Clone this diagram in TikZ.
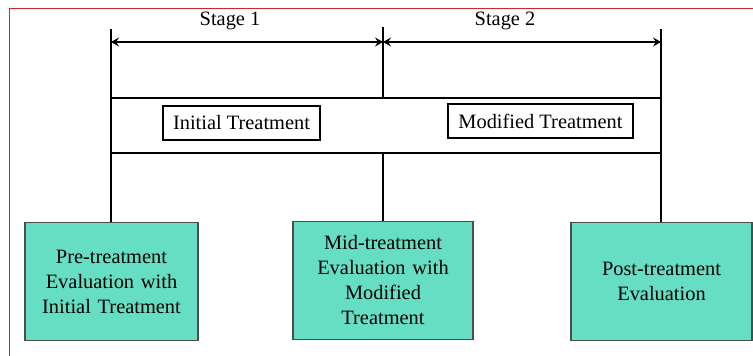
\documentclass[tikz,border=0pt]{standalone}
\usepackage{fontspec}
\setmainfont{Liberation Serif}
\usepackage{xcolor}
\usetikzlibrary{arrows.meta, calc}

\definecolor{evalgreen}{HTML}{66DEC4}
\definecolor{framered}{HTML}{D0262E}

\tikzset{
  evalbox/.style={draw=black!70, line width=1.2pt, fill=evalgreen, align=center,
    inner sep=0pt, text width=#1, minimum height=118pt},
  treatbox/.style={draw, line width=2pt, inner sep=0pt, minimum height=34pt, minimum width=#1},
  stagearrow/.style={{Stealth[length=8pt, width=9pt, inset=3pt]}-{Stealth[length=8pt, width=9pt, inset=3pt]}, line width=2pt},
  timeline/.style={line width=2pt}
}

\begin{document}
\begin{tikzpicture}[x=1pt, y=-1pt, font=\fontsize{20.4}{25}\selectfont]
    \useasboundingbox (0,0) rectangle (753,356);
    % Draw red frame
    \draw[framered, line width=1.3pt] (9.5,356) -- (9.5,8.5) -- (753,8.5);
    % Stage marks
    \coordinate (t1) at (111,29);
    \coordinate (t2) at (383,27);
    \coordinate (t3) at (661,29);
    \coordinate (a1) at (111,42);
    \coordinate (a2) at (383,42);
    \coordinate (a3) at (661,42);
    % Treatment band
    \node (band) [draw, line width=2pt, inner sep=0pt, minimum width=550pt, minimum height=55pt] at (386,125.5) {};
    \node (init) [treatbox=157pt] at (241.5,122.5) {Initial Treatment};
    \node (modif) [treatbox=185pt] at (540.5,121) {Modified Treatment};
    % Evaluation boxes
    \node (pre) [evalbox=173pt] at (111.5,281.6) {Pre-treatment\\Evaluation with\\Initial Treatment};
    \node (mid) [evalbox=180pt] at (383,280.5) {Mid-treatment\\Evaluation with\\Modified\\Treatment};
    \node (post) [evalbox=181pt] at (661.5,281.7) {Post-treatment\\Evaluation};
    % Vertical lines
    \draw[timeline] (t1) -- (t1 |- pre.north);
    \draw[timeline] (t2) -- (t2 |- band.north);
    \draw[timeline] (t2 |- band.south) -- (mid.north);
    \draw[timeline] (t3) -- (t3 |- post.north);
    % Stage arrows
    \draw[stagearrow] (a1) -- (a2);
    \draw[stagearrow] (a2) -- (a3);
    \node (stage1) [anchor=base] at (230,25) {Stage 1};
    \node (stage2) [anchor=base] at (505,25) {Stage 2};
\end{tikzpicture}
\end{document}
